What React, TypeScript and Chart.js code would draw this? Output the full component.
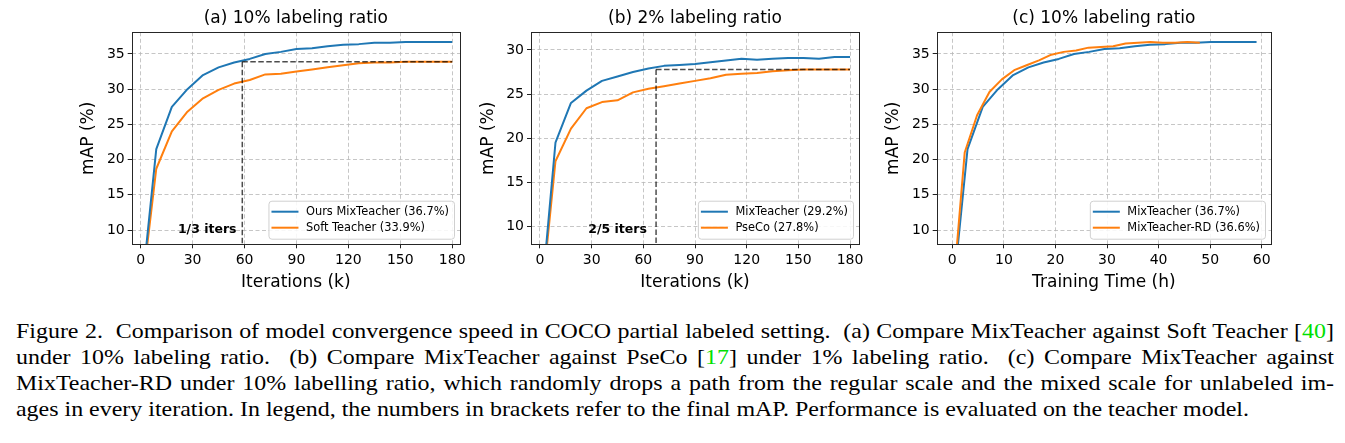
import React, { useEffect, useRef } from "react";
import { Chart, registerables } from "chart.js";
Chart.register(...registerables);

// ---------- data ----------
const ITERS_K = [0, 9, 18, 27, 36, 45, 54, 63, 72, 81, 90, 99, 108, 117, 126, 135, 144, 153, 162, 171, 180];

const A_MIXTEACHER = [0, 21.5, 27.5, 30.0, 32.0, 33.1, 33.8, 34.3, 35.0, 35.3, 35.7, 35.8, 36.1, 36.3, 36.4, 36.6, 36.6, 36.7, 36.7, 36.7, 36.7];
const A_SOFT_TEACHER = [0, 18.7, 24.0, 26.8, 28.7, 29.9, 30.8, 31.3, 32.1, 32.2, 32.5, 32.8, 33.1, 33.4, 33.7, 33.8, 33.8, 33.9, 33.9, 33.9, 33.9];

const B_MIXTEACHER = [0, 19.5, 24.0, 25.4, 26.5, 27.0, 27.5, 27.9, 28.2, 28.3, 28.4, 28.6, 28.8, 29.0, 28.9, 29.0, 29.1, 29.1, 29.0, 29.2, 29.2];
const B_PSECO = [0, 17.4, 21.1, 23.4, 24.1, 24.3, 25.2, 25.6, 25.9, 26.2, 26.5, 26.8, 27.2, 27.3, 27.4, 27.6, 27.7, 27.8, 27.8, 27.8, 27.8];

const C_HOURS_MIXTEACHER = [0, 2.95, 5.9, 8.85, 11.8, 14.75, 17.7, 20.65, 23.6, 26.55, 29.5, 32.45, 35.4, 38.35, 41.3, 44.25, 47.2, 50.15, 53.1, 56.05, 59.0];
const C_MIXTEACHER = [0, 21.5, 27.5, 30.0, 32.0, 33.1, 33.8, 34.3, 35.0, 35.3, 35.7, 35.8, 36.1, 36.3, 36.4, 36.6, 36.6, 36.7, 36.7, 36.7, 36.7];
const C_HOURS_RD = [0, 2.4, 4.8, 7.2, 9.6, 12.0, 14.4, 16.8, 19.2, 21.6, 24.0, 26.4, 28.8, 31.2, 33.6, 36.0, 38.4, 40.8, 43.2, 45.6, 48.0];
const C_MIXTEACHER_RD = [0, 21.0, 26.3, 29.6, 31.4, 32.7, 33.4, 34.1, 34.9, 35.3, 35.5, 35.9, 36.0, 36.1, 36.5, 36.6, 36.7, 36.6, 36.6, 36.7, 36.6];

const ITER_TICKS = [0, 30, 60, 90, 120, 150, 180];
const HOUR_TICKS = [0, 10, 20, 30, 40, 50, 60];
const MAP_TICKS_A = [10, 15, 20, 25, 30, 35];
const MAP_TICKS_B = [10, 15, 20, 25, 30];

const TITLES = ["(a) 10% labeling ratio", "(b) 2% labeling ratio", "(c) 10% labeling ratio"];
const LEGEND_A = ["Ours MixTeacher (36.7%)", "Soft Teacher (33.9%)"];
const LEGEND_B = ["MixTeacher (29.2%)", "PseCo (27.8%)"];
const LEGEND_C = ["MixTeacher (36.7%)", "MixTeacher-RD (36.6%)"];

// annotation guides (data units)
const GUIDE_A = { x: 58.7, y: 33.9, xEnd: 180, label: "1/3 iters", lx: 21.5, ly: 9.6 };
const GUIDE_B = { x: 67.4, y: 27.8, xEnd: 180, label: "2/5 iters", lx: 28.0, ly: 9.3 };

const BLUE = "#1f77b4";
const ORANGE = "#ff7f0e";
const FONT = "DejaVu Sans";

type Spec = {
  left: number;
  width: number;
  yWidth: number;
  yTitlePad: number;
  padRight: number;
  title: string;
  xTitle: string;
  xMin: number;
  xMax: number;
  yMin: number;
  yMax: number;
  xTicks: number[];
  yTicks: number[];
  series: { label: string; color: string; xs: number[]; ys: number[]; order: number }[];
  guide?: typeof GUIDE_A;
};

const H = 300;
const PLOT_BOTTOM = 244.3;

function MiniChart({ spec }: { spec: Spec }) {
  const ref = useRef<HTMLCanvasElement | null>(null);
  useEffect(() => {
    const canvas = ref.current!;
    const overlay = {
      id: "overlay",
      afterDatasetsDraw(chart: any) {
        const { ctx, chartArea: ca, scales } = chart;
        const xs = scales.x, ys = scales.y;
        ctx.save();
        if (spec.guide) {
          const g = spec.guide;
          ctx.beginPath();
          ctx.rect(ca.left, ca.top, ca.right - ca.left, ca.bottom - ca.top);
          ctx.clip();
          ctx.strokeStyle = "rgba(0,0,0,0.7)";
          ctx.lineWidth = 1.5;
          ctx.setLineDash([5.5, 2.5]);
          const gx = xs.getPixelForValue(g.x);
          const gy = ys.getPixelForValue(g.y);
          ctx.beginPath();
          ctx.moveTo(gx, gy);
          ctx.lineTo(gx, ca.bottom + 2);
          ctx.stroke();
          ctx.beginPath();
          ctx.moveTo(gx, gy);
          ctx.lineTo(xs.getPixelForValue(g.xEnd), gy);
          ctx.stroke();
          ctx.setLineDash([]);
          ctx.restore();
          ctx.save();
          ctx.font = `bold 12.5px "${FONT}"`;
          ctx.fillStyle = "#000";
          ctx.textAlign = "left";
          ctx.textBaseline = "alphabetic";
          ctx.fillText(g.label, xs.getPixelForValue(g.lx), ys.getPixelForValue(g.ly));
        }
        // frame
        ctx.strokeStyle = "#262626";
        ctx.lineWidth = 1;
        ctx.strokeRect(Math.round(ca.left) + 0.5, Math.round(ca.top) + 0.5, Math.round(ca.right - ca.left), Math.round(ca.bottom - ca.top));
        // legend
        ctx.font = `11.4px "${FONT}"`;
        const tw = Math.max(...spec.series.map((s) => ctx.measureText(s.label).width));
        const bw = 37.5 + tw + 5;
        const bh = 38;
        const right = ca.right - 6;
        const bottom = ca.bottom - 5.6;
        const left = right - bw;
        const top = bottom - bh;
        ctx.beginPath();
        (ctx as any).roundRect(left + 0.5, top + 0.5, bw, bh, 3);
        ctx.fillStyle = "rgba(255,255,255,0.85)";
        ctx.fill();
        ctx.strokeStyle = "#d0d0d0";
        ctx.lineWidth = 1;
        ctx.stroke();
        spec.series.forEach((s, i) => {
          const yy = top + 11 + i * 16;
          ctx.beginPath();
          ctx.strokeStyle = s.color;
          ctx.lineWidth = 2;
          ctx.moveTo(left + 3, yy);
          ctx.lineTo(left + 30, yy);
          ctx.stroke();
          ctx.fillStyle = "#000";
          ctx.textAlign = "left";
          ctx.textBaseline = "middle";
          ctx.fillText(s.label, left + 37.5, yy + 0.5);
        });
        ctx.restore();
      },
    };

    const chart = new Chart(canvas, {
      type: "line",
      data: {
        datasets: spec.series.map((s) => ({
          label: s.label,
          data: s.xs.map((x, i) => ({ x, y: s.ys[i] })),
          borderColor: s.color,
          backgroundColor: s.color,
          borderWidth: 2,
          pointRadius: 0,
          tension: 0,
          fill: false,
          order: s.order,
          borderJoinStyle: "round" as const,
        })),
      },
      options: {
        responsive: false,
        animation: false,
        devicePixelRatio: 1,
        layout: { padding: { left: 0, right: spec.padRight, top: 0, bottom: 0 }, autoPadding: false },
        plugins: {
          legend: { display: false },
          tooltip: { enabled: false },
          title: {
            display: true,
            text: spec.title,
            color: "#000",
            font: { family: FONT, size: 17, weight: "normal" as const },
            padding: { top: 8.1, bottom: 3.8 },
            fullSize: false,
          },
        },
        scales: {
          x: {
            type: "linear",
            min: spec.xMin,
            max: spec.xMax,
            afterBuildTicks: (s: any) => {
              s.ticks = spec.xTicks.map((v) => ({ value: v }));
            },
            afterFit: (s: any) => {
              s.height = H - PLOT_BOTTOM;
              s.paddingLeft = 0;
              s.paddingRight = 0;
            },
            grid: { color: "#b8b8b8", lineWidth: 0.8, drawTicks: true, tickLength: 4, tickColor: "#222", tickWidth: 1, tickBorderDash: [] },
            border: { display: false, dash: [4, 2.5] },
            ticks: {
              color: "#000",
              font: { family: FONT, size: 14 },
              padding: 4,
              maxRotation: 0,
              autoSkip: false,
              callback: (v: any) => String(v),
            },
            title: {
              display: true,
              text: spec.xTitle,
              color: "#000",
              font: { family: FONT, size: 17 },
              padding: { top: 0, bottom: 7.1 },
            },
          },
          y: {
            type: "linear",
            min: spec.yMin,
            max: spec.yMax,
            afterBuildTicks: (s: any) => {
              s.ticks = spec.yTicks.map((v) => ({ value: v }));
            },
            afterFit: (s: any) => {
              s.width = spec.yWidth;
              s.paddingTop = 0;
              s.paddingBottom = 0;
            },
            grid: { color: "#b8b8b8", lineWidth: 0.8, drawTicks: true, tickLength: 4, tickColor: "#222", tickWidth: 1, tickBorderDash: [] },
            border: { display: false, dash: [4, 2.5] },
            ticks: {
              color: "#000",
              font: { family: FONT, size: 14 },
              padding: 3,
              autoSkip: false,
              callback: (v: any) => String(v),
            },
            title: {
              display: true,
              text: "mAP (%)",
              color: "#000",
              font: { family: FONT, size: 17 },
              padding: { top: spec.yTitlePad, bottom: 0 },
            },
          },
        },
      },
      plugins: [overlay],
    } as any);
    return () => chart.destroy();
  }, [spec]);

  return (
    <canvas
      ref={ref}
      width={spec.width}
      height={H}
      style={{ position: "absolute", left: spec.left, top: 0, width: spec.width, height: H }}
    />
  );
}

const SPECS: Spec[] = [
  {
    left: 58, width: 410, yWidth: 73.7, yTitlePad: 20.1, padRight: 8,
    title: TITLES[0], xTitle: "Iterations (k)",
    xMin: -5.2, xMax: 184.5, yMin: 7.97, yMax: 38.08,
    xTicks: ITER_TICKS, yTicks: MAP_TICKS_A,
    series: [
      { label: LEGEND_A[0], color: BLUE, xs: ITERS_K, ys: A_MIXTEACHER, order: 0 },
      { label: LEGEND_A[1], color: ORANGE, xs: ITERS_K, ys: A_SOFT_TEACHER, order: 1 },
    ],
    guide: GUIDE_A,
  },
  {
    left: 468, width: 400, yWidth: 63, yTitlePad: 10.1, padRight: 9,
    title: TITLES[1], xTitle: "Iterations (k)",
    xMin: -5.2, xMax: 185.2, yMin: 8.0, yMax: 32.0,
    xTicks: ITER_TICKS, yTicks: MAP_TICKS_B,
    series: [
      { label: LEGEND_B[0], color: BLUE, xs: ITERS_K, ys: B_MIXTEACHER, order: 0 },
      { label: LEGEND_B[1], color: ORANGE, xs: ITERS_K, ys: B_PSECO, order: 1 },
    ],
    guide: GUIDE_B,
  },
  {
    left: 870, width: 420, yWidth: 66.7, yTitlePad: 13.8, padRight: 19,
    title: TITLES[2], xTitle: "Training Time (h)",
    xMin: -3.03, xMax: 61.8, yMin: 7.97, yMax: 38.08,
    xTicks: HOUR_TICKS, yTicks: MAP_TICKS_A,
    series: [
      { label: LEGEND_C[0], color: BLUE, xs: C_HOURS_MIXTEACHER, ys: C_MIXTEACHER, order: 1 },
      { label: LEGEND_C[1], color: ORANGE, xs: C_HOURS_RD, ys: C_MIXTEACHER_RD, order: 0 },
    ],
  },
];

const CITE = { color: "#00e000" };
const STRETCH = 1.088;
const lineStyle: React.CSSProperties = {
  whiteSpace: "nowrap",
  textAlign: "justify",
  textAlignLast: "justify" as any,
  height: 26,
};

export default function App() {
  return (
    <div style={{ position: "absolute", left: 0, top: 0, width: 1345, height: 443, background: "#fff", overflow: "hidden" }}>
      {SPECS.map((s, i) => (
        <MiniChart key={i} spec={s} />
      ))}
      <div
        style={{
          position: "absolute",
          left: 16,
          top: 318,
          width: 1318 / STRETCH,
          transform: `scaleX(${STRETCH})`,
          transformOrigin: "0 0",
          fontFamily: '"Liberation Serif", "Times New Roman", serif',
          fontSize: 22,
          lineHeight: "26px",
          color: "#000",
        }}
      >
        <div style={lineStyle}>
          Figure 2.{"\u00a0"} Comparison of model convergence speed in COCO partial labeled setting.{"\u00a0"} (a) Compare MixTeacher against Soft Teacher [<span style={CITE}>40</span>]
        </div>
        <div style={lineStyle}>
          under 10% labeling ratio.{"\u00a0"} (b) Compare MixTeacher against PseCo [<span style={CITE}>17</span>] under 1% labeling ratio.{"\u00a0"} (c) Compare MixTeacher against
        </div>
        <div style={lineStyle}>
          MixTeacher-RD under 10% labelling ratio, which randomly drops a path from the regular scale and the mixed scale for unlabeled im-
        </div>
        <div style={{ whiteSpace: "nowrap", height: 26 }}>
          ages in every iteration. In legend, the numbers in brackets refer to the final mAP. Performance is evaluated on the teacher model.
        </div>
      </div>
    </div>
  );
}
